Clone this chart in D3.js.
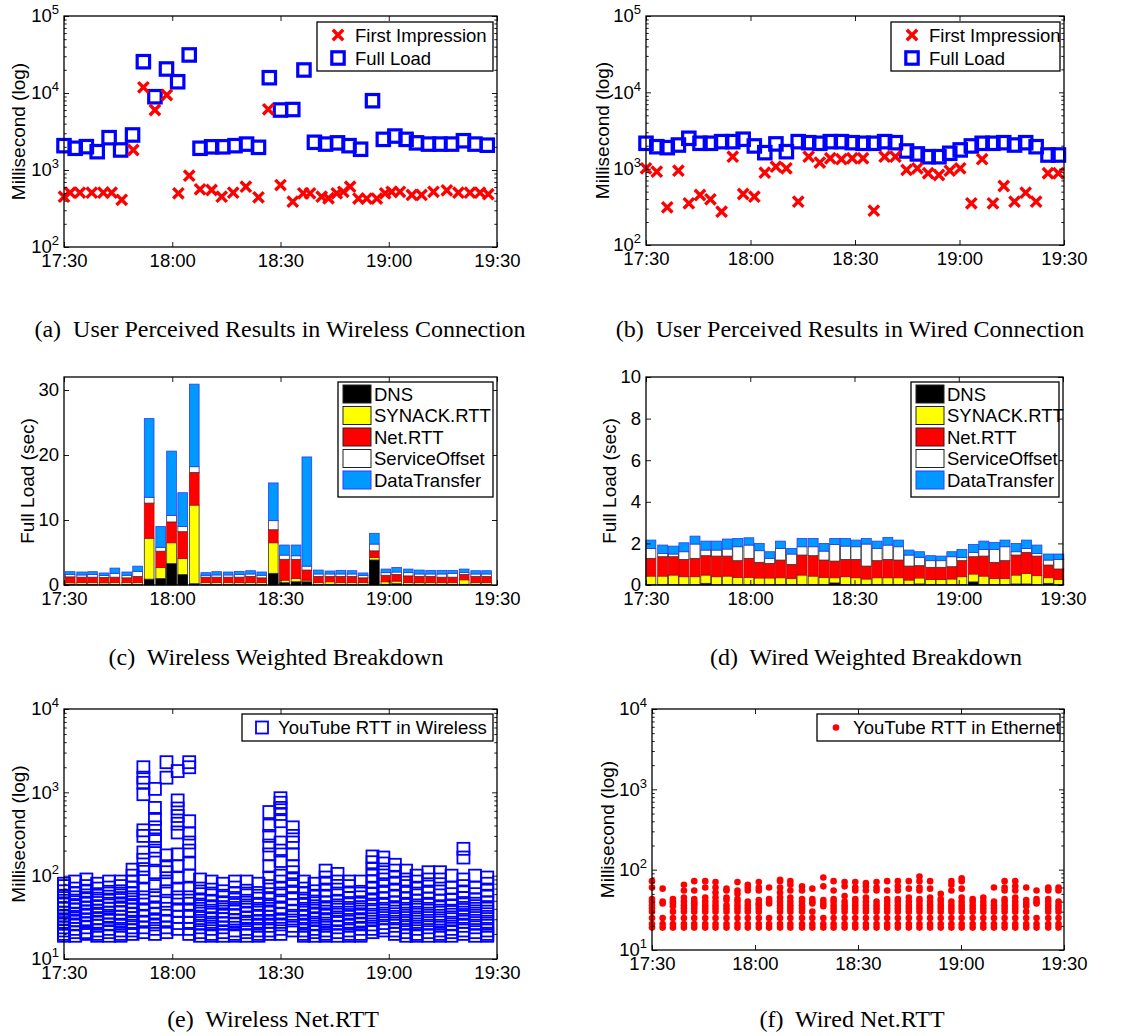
<!DOCTYPE html>
<html>
<head>
<meta charset="utf-8">
<script src="https://cdn.jsdelivr.net/npm/d3@7"></script>
<style>
  body { margin: 0; background: #fff; }
  svg { display: block; }
</style>
</head>
<body>
<script>
(function () {
  "use strict";

  const W = 1129, H = 1036;
  const SANS = "'Liberation Sans', Arial, Helvetica, sans-serif";
  const SERIF = "'Liberation Serif', 'Times New Roman', serif";
  const BLUE = "#0000ff", RED = "#ff0000";

  /* ---- (a) wireless, user perceived (minutes after 17:30) ---- */
  const tWireless = [0, 3.1, 6.2, 9.2, 12.5, 15.7, 19, 22, 25.2, 28.4, 31.5, 34.7, 37.7, 40.9, 44, 47.4, 50.6, 53.9, 56.9, 60,
    63.4, 66.5, 69.4, 72.5, 75.8, 79, 82.2, 85.5, 88.5, 91.7, 94.8, 97.7, 101, 104.2, 107.4, 110.7, 113.9, 117.3];
  const fullLoadWireless = [2070, 1915, 2010, 1730, 2630, 1820, 2850, 25500, 8950, 20500, 14000, 31200, 1915, 2000, 2000, 2070, 2170, 1970, 15800, 6010,
    6100, 19900, 2290, 2170, 2250, 2070, 1860, 7940, 2500, 2760, 2500, 2250, 2170, 2170, 2170, 2400, 2170, 2100];
  const tFirstWireless = [0, 1.7, 4.4, 7.7, 10.9, 13.2, 16, 19.2, 22, 25.2, 28.5, 31.7, 34.7, 37.7, 40.9, 43.7, 46.9, 50.4, 53.9, 56.6,
    60, 63.4, 66.3, 68.2, 71.4, 73.3, 75.6, 77.4, 79.3, 81.6, 83.9, 86.7, 89, 90.8, 93.1, 96.4, 99.1, 102.4, 106.1, 109.3,
    112.5, 115.3, 117.6];
  const firstImpWireless = [450, 507, 507, 507, 507, 507, 410, 1820, 11860, 6010, 9420, 498, 843, 561, 550, 450, 507, 608, 442, 6140,
    638, 388, 498, 498, 450, 430, 498, 520, 608, 425, 425, 425, 498, 520, 520, 475, 475, 520, 545, 507,
    507, 507, 485];

  /* ---- (b) wired, user perceived ---- */
  const tWired = [0, 3.1, 6.1, 9.3, 12.3, 15.5, 18.5, 21.7, 24.9, 27.9, 31.1, 34.1, 37.3, 40.3, 43.7, 46.7, 49.9, 52.9, 56.1, 59.2,
    62.3, 65.4, 68.5, 71.6, 74.8, 77.9, 81, 84.1, 87.2, 90.2, 93.4, 96.5, 99.6, 102.7, 105.8, 109, 112, 115.4, 118.4];
  const fullLoadWired = [2150, 1940, 1885, 2040, 2500, 2150, 2150, 2260, 2260, 2430, 1985, 1620, 2110, 1670, 2260, 2190, 2150, 2260, 2260, 2190,
    2150, 2150, 2260, 2190, 1705, 1560, 1435, 1435, 1590, 1760, 1985, 2150, 2150, 2190, 2040, 2190, 1940, 1510, 1510];
  const firstImpWired = [1010, 914, 312, 942, 352, 452, 397, 273, 1435, 466, 430, 887, 1062, 1010, 370, 1435, 1200, 1370, 1330, 1370,
    1370, 282, 1435, 1435, 962, 1010, 871, 826, 942, 1010, 352, 1330, 352, 593, 370, 485, 370, 871, 871];

  /* ---- breakdown series (sec) ---- */
  const breakdownKeys = ["DNS", "SYNACK.RTT", "Net.RTT", "ServiceOffset", "DataTransfer"];
  const breakdownFill = ["#000000", "#ffff00", "#ff0000", "#ffffff", "#0099ff"];
  const breakdownEdge = ["#000000", "#333333", "#cc0000", "#333333", "#2a3cff"];

  /* (c) wireless */
  const tBarWireless = [1.7, 4.9, 7.9, 11.1, 14.1, 17.4, 20.4, 23.6, 26.8, 29.8, 32.9, 36.1, 39.3, 42.3, 45.5, 48.6, 51.7, 54.8, 58, 61.1,
    64.3, 67.3, 70.5, 73.7, 76.7, 79.8, 82.9, 86, 89.2, 92.2, 95.4, 98.5, 101.6, 104.7, 107.7, 110.9, 114.1, 117.1];
  const dnsWireless = [0.1, 0.1, 0.1, 0.1, 0.1, 0.1, 0.1, 0.9, 1.0, 3.3, 1.6, 0.2, 0.1, 0.1, 0.1, 0.1, 0.1, 0.1, 1.8, 0.35,
    0.5, 0.5, 0.1, 0.1, 0.1, 0.1, 0.1, 3.85, 0.1, 0.2, 0.1, 0.1, 0.1, 0.1, 0.1, 0.1, 0.1, 0.1];
  const synWireless = [0.25, 0.3, 0.3, 0.25, 0.3, 0.3, 0.3, 6.3, 1.7, 3.2, 2.5, 12.1, 0.3, 0.3, 0.3, 0.3, 0.3, 0.3, 4.7, 0.4,
    0.5, 0.25, 0.3, 0.4, 0.3, 0.3, 0.3, 0.4, 0.4, 0.4, 0.3, 0.3, 0.3, 0.3, 0.3, 0.7, 0.3, 0.3];
  const netWireless = [0.9, 0.8, 0.8, 0.8, 0.8, 0.7, 0.9, 5.4, 2.5, 3.2, 4.1, 5.0, 0.8, 0.8, 0.8, 0.8, 0.9, 0.7, 2.0, 3.2,
    2.95, 1.55, 0.9, 0.8, 0.9, 0.9, 0.7, 1.0, 1.0, 1.0, 1.0, 0.9, 0.9, 0.8, 0.8, 0.8, 0.9, 0.9];
  const soWireless = [0.35, 0.35, 0.4, 0.3, 0.6, 0.4, 0.8, 0.9, 0.6, 1.0, 0.8, 0.9, 0.3, 0.35, 0.35, 0.4, 0.4, 0.4, 1.4, 0.65,
    0.55, 0.6, 0.4, 0.4, 0.4, 0.4, 0.35, 1.05, 0.4, 0.4, 0.5, 0.4, 0.4, 0.5, 0.6, 0.3, 0.4, 0.4];
  const dtWireless = [0.45, 0.45, 0.45, 0.4, 0.8, 0.5, 0.8, 12.1, 3.2, 9.9, 5.2, 12.7, 0.4, 0.5, 0.45, 0.5, 0.5, 0.5, 5.8, 1.55,
    1.65, 16.8, 0.6, 0.45, 0.55, 0.5, 0.4, 1.65, 0.55, 0.7, 0.55, 0.6, 0.55, 0.55, 0.45, 0.55, 0.5, 0.5];

  /* (d) wired */
  const tBarWired = [1.4, 4.8, 7.9, 10.9, 14.1, 17.2, 20.3, 23.4, 26.4, 29.6, 32.6, 35.6, 38.7, 41.9, 44.9, 48.1, 51.2, 54.3, 57.4, 60.4,
    63.4, 66.5, 69.6, 72.7, 75.7, 78.7, 81.9, 84.9, 88, 90.9, 94.2, 97.2, 100.3, 103.3, 106.5, 109.5, 112.5, 115.8, 118.8];
  const dnsWired = [0.02, 0.02, 0.02, 0.02, 0.02, 0.08, 0.02, 0.02, 0.02, 0.02, 0.02, 0.02, 0.02, 0.02, 0.02, 0.02, 0.02, 0.1, 0.02, 0.02,
    0.02, 0.02, 0.02, 0.02, 0.02, 0.05, 0.02, 0.02, 0.02, 0.02, 0.15, 0.02, 0.02, 0.02, 0.05, 0.05, 0.02, 0.08, 0.02];
  const synWired = [0.41, 0.41, 0.46, 0.38, 0.38, 0.4, 0.38, 0.41, 0.35, 0.35, 0.32, 0.32, 0.33, 0.3, 0.46, 0.41, 0.35, 0.25, 0.38, 0.33,
    0.27, 0.33, 0.33, 0.33, 0.22, 0.29, 0.25, 0.25, 0.27, 0.38, 0.38, 0.41, 0.3, 0.3, 0.43, 0.51, 0.43, 0.27, 0.25];
  const netWired = [0.85, 0.93, 0.88, 0.83, 0.88, 0.93, 0.99, 0.96, 0.8, 0.91, 0.75, 0.7, 0.85, 0.67, 0.96, 0.98, 0.83, 0.8, 0.83, 0.88,
    0.62, 0.82, 0.88, 0.85, 0.67, 0.59, 0.58, 0.58, 0.59, 0.77, 0.83, 0.96, 0.77, 0.85, 0.96, 1.01, 0.94, 0.61, 0.5];
  const soWired = [0.48, 0.16, 0.13, 0.37, 0.69, 0.27, 0.29, 0.34, 0.67, 0.64, 0.56, 0.24, 0.56, 0.5, 0.4, 0.43, 0.43, 0.8, 0.64, 0.61,
    1.06, 0.59, 0.69, 0.64, 0.53, 0.4, 0.32, 0.32, 0.48, 0.16, 0.21, 0.32, 0.62, 0.67, 0.16, 0.19, 0.13, 0.24, 0.46];
  const dtWired = [0.4, 0.4, 0.38, 0.43, 0.38, 0.43, 0.43, 0.48, 0.4, 0.35, 0.35, 0.32, 0.35, 0.27, 0.4, 0.4, 0.37, 0.29, 0.37, 0.32,
    0.27, 0.35, 0.37, 0.32, 0.24, 0.27, 0.24, 0.22, 0.24, 0.38, 0.38, 0.4, 0.34, 0.32, 0.4, 0.4, 0.4, 0.29, 0.26];

  /* ---- (e) YouTube RTT in wireless (ms), one list per sample time in tWireless ---- */
  const rttWireless = [
    [19, 20, 22, 24, 27, 30, 33, 36, 40, 45, 50, 57, 65, 75, 80],
    [19, 21, 23, 26, 29, 32, 35, 39, 43, 48, 55, 62, 70, 85],
    [20, 21, 24, 27, 30, 34, 37, 41, 46, 52, 58, 66, 75, 90],
    [19, 20, 22, 25, 28, 31, 35, 38, 42, 47, 53, 60, 70, 80],
    [19, 21, 23, 26, 30, 33, 36, 40, 44, 50, 56, 64, 72, 85],
    [19, 20, 22, 25, 29, 32, 36, 40, 45, 51, 58, 65, 75, 85],
    [20, 22, 24, 27, 31, 35, 39, 43, 48, 55, 62, 72, 85, 100, 118],
    [21, 24, 28, 33, 38, 45, 55, 70, 95, 120, 155, 190, 300, 350, 950, 1300, 1500, 2000],
    [20, 23, 26, 30, 35, 40, 48, 58, 75, 110, 160, 200, 260, 300, 380, 480, 650, 1100],
    [21, 24, 28, 33, 40, 50, 65, 85, 110, 130, 175, 1500, 2300],
    [23, 27, 32, 38, 45, 55, 70, 95, 130, 180, 330, 420, 520, 640, 800, 1800],
    [20, 23, 27, 32, 38, 46, 55, 70, 100, 140, 200, 250, 320, 450, 2000, 2300],
    [19, 21, 24, 27, 31, 35, 40, 45, 52, 60, 70, 90],
    [19, 20, 23, 26, 30, 34, 38, 43, 50, 58, 68, 85],
    [19, 21, 24, 27, 30, 33, 37, 42, 48, 55, 65, 80],
    [19, 20, 22, 26, 29, 33, 37, 41, 47, 54, 62, 72, 85],
    [19, 21, 23, 27, 31, 35, 39, 44, 50, 58, 66, 85],
    [19, 20, 22, 25, 28, 32, 36, 40, 46, 53, 62, 80],
    [20, 22, 25, 28, 32, 36, 40, 45, 52, 60, 75, 95, 130, 180, 230, 300, 400, 580],
    [20, 23, 26, 30, 35, 40, 48, 58, 70, 85, 100, 150, 200, 250, 450, 550, 650, 750, 850],
    [22, 25, 29, 33, 38, 44, 52, 62, 75, 90, 110, 130, 180, 250, 300, 380],
    [19, 20, 22, 25, 28, 32, 36, 40, 46, 53, 62, 70, 85],
    [19, 21, 23, 26, 30, 34, 38, 43, 49, 56, 65, 80],
    [19, 20, 22, 25, 29, 33, 37, 42, 48, 56, 66, 80, 95, 115],
    [19, 21, 24, 27, 30, 34, 39, 44, 50, 58, 68, 85, 105],
    [19, 20, 22, 25, 28, 32, 36, 41, 47, 54, 63, 75, 85],
    [19, 20, 23, 26, 29, 33, 37, 42, 48, 55, 64, 85],
    [21, 23, 26, 30, 34, 39, 45, 52, 60, 70, 85, 100, 120, 145, 170],
    [22, 24, 27, 31, 35, 40, 46, 53, 62, 75, 90, 110, 140, 165],
    [20, 22, 25, 28, 32, 37, 42, 48, 56, 66, 80, 95, 115, 135],
    [19, 21, 24, 27, 31, 35, 40, 46, 53, 62, 75, 90, 115],
    [19, 20, 23, 26, 30, 34, 39, 44, 50, 58, 70, 85, 100],
    [19, 21, 24, 27, 31, 35, 40, 46, 53, 62, 74, 90, 110],
    [19, 20, 22, 25, 29, 33, 38, 43, 50, 58, 70, 90, 110],
    [19, 21, 23, 26, 30, 34, 38, 44, 51, 60, 72, 100],
    [20, 22, 25, 28, 32, 36, 41, 47, 54, 63, 75, 90, 165, 210],
    [19, 21, 24, 27, 31, 35, 40, 46, 52, 60, 72, 100],
    [19, 20, 22, 25, 28, 32, 37, 42, 48, 56, 66, 80, 95]
  ];

  /* ---- (f) YouTube RTT in ethernet (ms), one list per sample time in tWired ---- */
  const rttWired = [
    [19, 21, 25, 30, 33, 36, 40, 43, 60, 72],
    [19, 21, 25, 38, 40, 58],
    [19, 21, 25, 30, 35, 38, 40, 43],
    [19, 21, 25, 30, 33, 36, 40, 45, 55, 65],
    [19, 21, 25, 30, 33, 36, 38, 40, 43, 55, 72],
    [19, 21, 25, 30, 33, 36, 40, 45, 60, 72],
    [19, 21, 25, 30, 33, 36, 40, 45, 52, 60, 70],
    [19, 21, 25, 30, 33, 36, 42, 45, 55, 58],
    [19, 21, 25, 30, 33, 36, 40, 43, 50, 55, 70],
    [19, 21, 25, 30, 33, 36, 40, 55, 60, 65],
    [19, 21, 25, 30, 33, 36, 38, 42, 55, 60, 70],
    [19, 21, 25, 38, 40, 43, 60],
    [19, 21, 25, 30, 33, 36, 40, 45, 52, 60, 72, 75],
    [19, 21, 25, 30, 33, 36, 40, 45, 55, 65, 72],
    [19, 21, 25, 30, 33, 36, 40, 43, 55, 62],
    [19, 21, 25, 30, 38, 40, 43, 58],
    [19, 21, 25, 35, 38, 42, 62, 80],
    [19, 21, 25, 30, 33, 36, 40, 43, 55, 72],
    [19, 21, 25, 30, 33, 36, 40, 47, 62, 70],
    [19, 21, 25, 30, 33, 36, 40, 43, 55, 60, 70],
    [19, 21, 25, 30, 33, 36, 40, 45, 55, 62, 68],
    [19, 21, 25, 30, 33, 36, 40, 55, 60, 70],
    [19, 21, 25, 30, 33, 36, 40, 43, 55, 72],
    [19, 21, 25, 30, 33, 36, 40, 43, 55, 62, 72],
    [19, 21, 25, 30, 33, 36, 40, 45, 58, 72],
    [19, 21, 25, 30, 33, 36, 40, 43, 55, 60, 72, 82],
    [19, 21, 25, 30, 33, 36, 40, 45, 58, 72],
    [19, 21, 25, 30, 33, 36, 40, 43, 50],
    [19, 21, 25, 30, 33, 36, 40, 55, 65, 72],
    [19, 21, 25, 30, 33, 36, 40, 45, 58, 72, 78],
    [19, 21, 25, 30, 33, 36, 40, 43],
    [19, 21, 25, 30, 33, 36, 40, 45],
    [19, 21, 25, 30, 33, 36, 40, 60],
    [19, 21, 25, 30, 33, 36, 40, 43, 55, 60, 72],
    [19, 21, 25, 30, 33, 36, 40, 45, 55, 62, 72],
    [19, 21, 25, 30, 35, 38, 42, 60],
    [19, 21, 25, 38, 40, 43, 55],
    [19, 21, 25, 30, 33, 36, 40, 43, 55, 58, 60],
    [19, 21, 25, 30, 33, 36, 40, 55, 60]
  ];

  const captions = [
    "(a)  User Perceived Results in Wireless Connection",
    "(b)  User Perceived Results in Wired Connection",
    "(c)  Wireless Weighted Breakdown",
    "(d)  Wired Weighted Breakdown",
    "(e)  Wireless Net.RTT",
    "(f)  Wired Net.RTT"
  ];

  /* ---- setup ---- */
  const svg = d3.select("body").append("svg").attr("width", W).attr("height", H);
  svg.append("rect").attr("width", W).attr("height", H).attr("fill", "#fff");

  const T0 = new Date(2012, 4, 1, 17, 30);
  const at = m => new Date(T0.getTime() + m * 60000);
  const isDecade = v => Math.abs(Math.log10(v) - Math.round(Math.log10(v))) < 1e-9;

  /* axes frame with inward ticks on all four sides (matlab style) */
  function panel(box, y, opt) {
    const x = d3.scaleTime().domain([at(0), at(120)]).range([box.left, box.right]);
    y.range([box.bottom, box.top]);
    const plot = svg.append("g");
    const ax = svg.append("g");

    const xt = d3.timeMinute.every(30);
    ax.append("g").attr("transform", "translate(0," + box.bottom + ")")
      .call(d3.axisBottom(x).ticks(xt).tickFormat(d3.timeFormat("%H:%M"))
        .tickSizeInner(-5).tickSizeOuter(0).tickPadding(7));
    ax.append("g").attr("transform", "translate(0," + box.top + ")")
      .call(d3.axisTop(x).ticks(xt).tickFormat("").tickSizeInner(-5).tickSizeOuter(0));

    let major, minor = [];
    if (opt.log) {
      const all = y.ticks();
      major = all.filter(isDecade);
      minor = all.filter(v => !isDecade(v));
    } else {
      major = opt.ticks;
    }
    const left = ax.append("g").attr("transform", "translate(" + box.left + ",0)")
      .call(d3.axisLeft(y).tickValues(major).tickSizeInner(-5).tickSizeOuter(0).tickPadding(5)
        .tickFormat(opt.log ? null : d3.format("d")));
    ax.append("g").attr("transform", "translate(" + box.right + ",0)")
      .call(d3.axisRight(y).tickValues(major).tickFormat("").tickSizeInner(-5).tickSizeOuter(0));
    if (minor.length) {
      ax.append("g").attr("transform", "translate(" + box.left + ",0)")
        .call(d3.axisLeft(y).tickValues(minor).tickFormat("").tickSizeInner(-2.7).tickSizeOuter(0));
      ax.append("g").attr("transform", "translate(" + box.right + ",0)")
        .call(d3.axisRight(y).tickValues(minor).tickFormat("").tickSizeInner(-2.7).tickSizeOuter(0));
    }
    if (opt.log) {
      left.selectAll(".tick text").each(function (d) {
        const t = d3.select(this).text(null);
        t.append("tspan").text("10");
        t.append("tspan").attr("dy", "-0.62em").attr("font-size", 13).text(Math.round(Math.log10(d)));
      });
    }

    ax.selectAll(".domain").remove();
    ax.selectAll(".tick line").attr("stroke", "#000").attr("stroke-width", 0.9);
    ax.selectAll("g").attr("font-family", SANS).attr("font-size", 18.5);
    ax.selectAll(".tick text").attr("fill", "#000");

    ax.append("rect")
      .attr("x", box.left).attr("y", box.top)
      .attr("width", box.right - box.left).attr("height", box.bottom - box.top)
      .attr("fill", "none").attr("stroke", "#000").attr("stroke-width", 1.3);

    svg.append("text")
      .attr("transform", "translate(" + opt.ylx + "," + (box.top + box.bottom) / 2 + ") rotate(-90)")
      .attr("text-anchor", "middle").attr("dominant-baseline", "central")
      .attr("font-family", SANS).attr("font-size", 19).attr("fill", "#000")
      .text(opt.ylabel);

    const legend = svg.append("g").attr("font-family", SANS).attr("font-size", 18.5);
    return { x, y, plot, legend };
  }

  const crossPath = s => "M" + (-s) + "," + (-s) + "L" + s + "," + s + "M" + (-s) + "," + s + "L" + s + "," + (-s);

  function drawSquares(g, x, y, times, vals, side, sw) {
    g.append("g").selectAll("rect").data(vals.map((v, i) => [times[i], v])).join("rect")
      .attr("x", d => x(at(d[0])) - side / 2).attr("y", d => y(d[1]) - side / 2)
      .attr("width", side).attr("height", side)
      .attr("fill", "none").attr("stroke", BLUE).attr("stroke-width", sw);
  }
  function drawCrosses(g, x, y, times, vals) {
    g.append("g").selectAll("path").data(vals.map((v, i) => [times[i], v])).join("path")
      .attr("transform", d => "translate(" + x(at(d[0])) + "," + y(d[1]) + ")")
      .attr("d", crossPath(5.2)).attr("fill", "none")
      .attr("stroke", RED).attr("stroke-width", 3.4);
  }

  function userLegend(leg, bx, by, bw) {
    leg.append("rect").attr("x", bx).attr("y", by).attr("width", bw).attr("height", 49)
      .attr("fill", "#fff").attr("stroke", "#000").attr("stroke-width", 1.3);
    leg.append("path").attr("transform", "translate(" + (bx + 21) + "," + (by + 13) + ")")
      .attr("d", crossPath(5.2)).attr("fill", "none").attr("stroke", RED).attr("stroke-width", 3.4);
    leg.append("rect").attr("x", bx + 21 - 6.2).attr("y", by + 36 - 6.2).attr("width", 12.4).attr("height", 12.4)
      .attr("fill", "none").attr("stroke", BLUE).attr("stroke-width", 3.2);
    leg.append("text").attr("x", bx + 38).attr("y", by + 13).attr("dominant-baseline", "central").text("First Impression");
    leg.append("text").attr("x", bx + 38).attr("y", by + 36).attr("dominant-baseline", "central").text("Full Load");
  }

  function userPanel(box, ylx, tFirst, first, tFull, full, lx, lw) {
    const p = panel(box, d3.scaleLog().domain([1e2, 1e5]), { log: true, ylabel: "Millisecond (log)", ylx: ylx });
    drawSquares(p.plot, p.x, p.y, tFull, full, 12.4, 3.2);
    drawCrosses(p.plot, p.x, p.y, tFirst, first);
    userLegend(p.legend, lx, box.top + 6, lw);
  }

  function breakdownPanel(box, ylx, times, series, ymax, ticks, lx) {
    const p = panel(box, d3.scaleLinear().domain([0, ymax]), { log: false, ticks: ticks, ylabel: "Full Load (sec)", ylx: ylx });
    const rows = times.map((t, i) => {
      const r = { t: t };
      breakdownKeys.forEach((k, j) => { r[k] = series[j][i]; });
      return r;
    });
    const stacked = d3.stack().keys(breakdownKeys)(rows);
    const bw = (p.x(at(times[1])) - p.x(at(times[0]))) * 0.84;
    stacked.forEach((layer, j) => {
      p.plot.append("g").selectAll("rect").data(layer).join("rect")
        .attr("x", d => p.x(at(d.data.t)) - bw / 2)
        .attr("y", d => p.y(d[1]))
        .attr("width", bw)
        .attr("height", d => Math.max(0, p.y(d[0]) - p.y(d[1])))
        .attr("fill", breakdownFill[j])
        .attr("stroke", breakdownEdge[j]).attr("stroke-width", 0.8);
    });
    const leg = p.legend;
    const by = box.top + 5;
    leg.append("rect").attr("x", lx).attr("y", by).attr("width", box.right - 4 - lx).attr("height", 115)
      .attr("fill", "#fff").attr("stroke", "#000").attr("stroke-width", 1.3);
    breakdownKeys.forEach((k, j) => {
      const cy = by + 12 + j * 21.5;
      leg.append("rect").attr("x", lx + 5).attr("y", cy - 9).attr("width", 28).attr("height", 18)
        .attr("fill", breakdownFill[j]).attr("stroke", j === 4 ? "#2a3cff" : "#222").attr("stroke-width", 1);
      leg.append("text").attr("x", lx + 36).attr("y", cy).attr("dominant-baseline", "central").text(k);
    });
  }

  /* (a) */
  userPanel({ left: 64, right: 497, top: 16, bottom: 247 }, 18,
    tFirstWireless, firstImpWireless, tWireless, fullLoadWireless, 317, 176);
  /* (b) */
  userPanel({ left: 646, right: 1064, top: 16, bottom: 245 }, 602,
    tWired, firstImpWired, tWired, fullLoadWired, 891, 169);

  /* (c) */
  breakdownPanel({ left: 64, right: 497, top: 377, bottom: 585 }, 27, tBarWireless,
    [dnsWireless, synWireless, netWireless, soWireless, dtWireless], 32, [0, 10, 20, 30], 338);
  /* (d) */
  breakdownPanel({ left: 646, right: 1063, top: 377, bottom: 585 }, 609, tBarWired,
    [dnsWired, synWired, netWired, soWired, dtWired], 10, [0, 2, 4, 6, 8, 10], 911);

  /* (e) */
  (function () {
    const box = { left: 64, right: 497, top: 709, bottom: 959 };
    const p = panel(box, d3.scaleLog().domain([10, 1e4]), { log: true, ylabel: "Millisecond (log)", ylx: 18 });
    const pts = [];
    rttWireless.forEach((list, i) => list.forEach(v => pts.push([tWireless[i], v])));
    p.plot.append("g").selectAll("rect").data(pts).join("rect")
      .attr("x", d => p.x(at(d[0])) - 6).attr("y", d => p.y(d[1]) - 6)
      .attr("width", 12).attr("height", 12)
      .attr("fill", "none").attr("stroke", BLUE).attr("stroke-width", 1.8);
    const leg = p.legend;
    leg.append("rect").attr("x", 242).attr("y", box.top + 5).attr("width", 251).attr("height", 27)
      .attr("fill", "#fff").attr("stroke", "#000").attr("stroke-width", 1.3);
    leg.append("rect").attr("x", 262 - 6).attr("y", box.top + 18.5 - 6).attr("width", 12).attr("height", 12)
      .attr("fill", "none").attr("stroke", BLUE).attr("stroke-width", 1.8);
    leg.append("text").attr("x", 278).attr("y", box.top + 18.5).attr("dominant-baseline", "central")
      .text("YouTube RTT in Wireless");
  })();

  /* (f) */
  (function () {
    const box = { left: 652, right: 1064, top: 709, bottom: 950 };
    const p = panel(box, d3.scaleLog().domain([10, 1e4]), { log: true, ylabel: "Millisecond (log)", ylx: 607 });
    const pts = [];
    rttWired.forEach((list, i) => list.forEach(v => pts.push([tWired[i], v])));
    p.plot.append("g").selectAll("circle").data(pts).join("circle")
      .attr("cx", d => p.x(at(d[0]))).attr("cy", d => p.y(d[1])).attr("r", 3.3)
      .attr("fill", RED);
    const leg = p.legend;
    leg.append("rect").attr("x", 817).attr("y", box.top + 5).attr("width", 243).attr("height", 27)
      .attr("fill", "#fff").attr("stroke", "#000").attr("stroke-width", 1.3);
    leg.append("circle").attr("cx", 836).attr("cy", box.top + 18.5).attr("r", 3.3).attr("fill", RED);
    leg.append("text").attr("x", 853).attr("y", box.top + 18.5).attr("dominant-baseline", "central")
      .text("YouTube RTT in Ethernet");
  })();

  /* captions */
  const capPos = [[280, 337], [850, 337], [276, 665], [866, 665], [273, 1027], [852, 1027]];
  svg.append("g").attr("font-family", SERIF).attr("font-size", 24).attr("fill", "#000")
    .selectAll("text").data(captions).join("text")
    .attr("x", (d, i) => capPos[i][0]).attr("y", (d, i) => capPos[i][1])
    .attr("text-anchor", "middle").style("white-space", "pre")
    .text(d => d);
})();
</script>
</body>
</html>
